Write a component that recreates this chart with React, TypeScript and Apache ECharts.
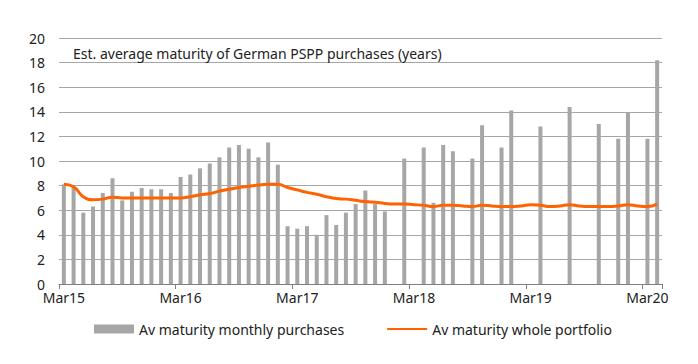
import React, { useEffect, useRef } from "react";
import * as echarts from "echarts";

const MONTHS = ["Jan", "Feb", "Mar", "Apr", "May", "Jun", "Jul", "Aug", "Sep", "Oct", "Nov", "Dec"];
// Monthly categories Mar15 .. Apr20 (62 months)
const categories: string[] = [];
for (let i = 0; i < 62; i++) {
  const m = (2 + i) % 12;
  const y = 15 + Math.floor((2 + i) / 12);
  categories.push(MONTHS[m] + y);
}

const monthlyPurchases: (number | null)[] = [
  8.1, 7.9, 5.8, 6.3, 7.4, 8.6, 6.8, 7.5, 7.8, 7.7, 7.7, 7.4,
  8.7, 8.9, 9.4, 9.8, 10.3, 11.1, 11.3, 11.0, 10.3, 11.5, 9.7, 4.7,
  4.5, 4.7, 4.0, 5.6, 4.8, 5.8, 6.5, 7.6, 6.5, 5.9, null, 10.2,
  null, 11.1, 6.6, 11.3, 10.8, null, 10.2, 12.9, null, 11.1, 14.1, null,
  null, 12.8, null, null, 14.4, null, null, 13.0, null, 11.8, 13.9, null,
  11.8, 18.2,
];

const wholePortfolio: number[] = [
  8.1, 7.9, 7.1, 6.85, 6.9, 7.05, 7.0, 7.0, 7.0, 7.0, 7.0, 7.0,
  7.0, 7.1, 7.25, 7.35, 7.55, 7.7, 7.85, 7.95, 8.05, 8.1, 8.1, 7.85,
  7.65, 7.45, 7.3, 7.1, 6.95, 6.9, 6.8, 6.7, 6.65, 6.55, 6.5, 6.5,
  6.45, 6.4, 6.3, 6.4, 6.4, 6.35, 6.3, 6.4, 6.35, 6.3, 6.3, 6.35,
  6.45, 6.4, 6.3, 6.35, 6.45, 6.35, 6.3, 6.3, 6.3, 6.35, 6.45, 6.35,
  6.3, 6.5,
];

const TITLE = "Est. average maturity of German PSPP purchases (years)";
const SERIES_NAMES = ["Av maturity monthly purchases", "Av maturity whole portfolio"];

const FONT = "Noto Sans";

export default function App() {
  const ref = useRef<HTMLDivElement>(null);
  useEffect(() => {
    document.body.style.margin = "0";
    if (!ref.current) return;
    const chart = echarts.init(ref.current, undefined, { renderer: "svg" });
    chart.setOption({
      animation: false,
      backgroundColor: "#ffffff",
      textStyle: { fontFamily: FONT },
      title: {
        text: TITLE,
        left: 68,
        top: 41,
        textStyle: { fontFamily: FONT, fontSize: 14, fontWeight: "normal", color: "#222" },
      },
      grid: { left: 59, right: 36, top: 38, bottom: 80, containLabel: false },
      legend: {
        top: 317,
        left: 89,
        itemWidth: 40,
        itemHeight: 9,
        itemGap: 42,
        textStyle: { fontFamily: FONT, fontSize: 14, color: "#222" },
        data: [
          { name: SERIES_NAMES[0], icon: "rect" },
          { name: SERIES_NAMES[1], itemStyle: { opacity: 0 } },
        ],
      },
      xAxis: {
        type: "category",
        data: categories,
        boundaryGap: true,
        axisLine: { lineStyle: { color: "#7f7f7f", width: 1 } },
        axisTick: { show: true, interval: 11, length: 5, alignWithLabel: false, lineStyle: { color: "#7f7f7f" } },
        axisLabel: { interval: 11, margin: 6, fontFamily: FONT, fontSize: 14, color: "#222" },
      },
      yAxis: {
        type: "value",
        min: 0,
        max: 20,
        interval: 2,
        axisLine: { show: false },
        axisTick: { show: false },
        axisLabel: { margin: 14, fontFamily: FONT, fontSize: 14, color: "#222" },
        splitLine: { lineStyle: { color: "#a6a6a6", width: 1 } },
      },
      series: [
        {
          name: SERIES_NAMES[0],
          type: "bar",
          data: monthlyPurchases,
          barWidth: 4,
          itemStyle: { color: "#a6a6a6" },
        },
        {
          name: SERIES_NAMES[1],
          type: "line",
          data: wholePortfolio,
          smooth: true,
          symbol: "none",
          lineStyle: { color: "#ff6200", width: 3 },
          itemStyle: { color: "#ff6200" },
        },
      ],
    });
    return () => chart.dispose();
  }, []);
  return <div ref={ref} style={{ width: 698, height: 364 }} />;
}
